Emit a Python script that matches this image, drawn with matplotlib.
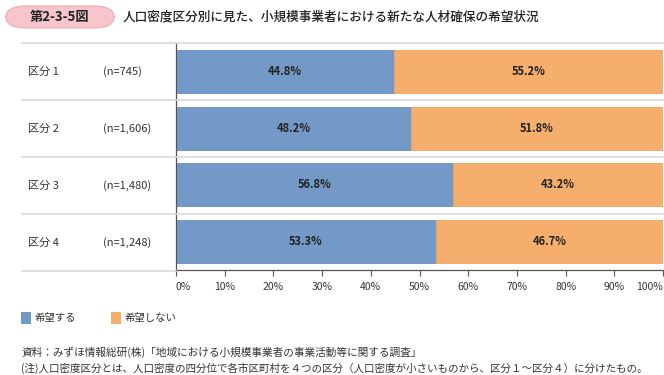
import matplotlib.pyplot as plt
from matplotlib.patches import FancyBboxPatch
from matplotlib.lines import Line2D

plt.rcParams['font.family'] = ['Noto Sans CJK JP', 'DejaVu Sans']

# Data
groups = ['区分 1', '区分 2', '区分 3', '区分 4']
counts = ['(n=745)', '(n=1,606)', '(n=1,480)', '(n=1,248)']
want = [44.8, 48.2, 56.8, 53.3]
not_want = [55.2, 51.8, 43.2, 46.7]
series_names = ['希望する', '希望しない']
colors = ['#7399c6', '#f5ae6b']

W, H = 664, 375
fig = plt.figure(figsize=(W / 100, H / 100), dpi=100)


def fx(px):
    return px / W


def fy(py):
    return 1 - py / H


ax = fig.add_axes([fx(176), fy(270), fx(663) - fx(176), fy(43) - fy(270)])
y = list(range(len(groups)))
ax.barh(y, want, height=0.76, color=colors[0], edgecolor='#6a8fbd', linewidth=0.6)
ax.barh(y, not_want, left=want, height=0.76, color=colors[1], edgecolor='#eea360', linewidth=0.6)
for i in y:
    ax.text(want[i] / 2, i, f'{want[i]}%', ha='center', va='center', fontsize=8,
            fontweight='bold', color='#222222')
    ax.text(want[i] + not_want[i] / 2, i, f'{not_want[i]}%', ha='center', va='center', fontsize=8,
            fontweight='bold', color='#222222')

ax.set_xlim(0, 100)
ax.set_ylim(len(groups) - 0.5, -0.5)
ax.set_yticks([])
ax.set_xticks(range(0, 101, 10))
ax.set_xticklabels([f'{v}%' for v in range(0, 101, 10)], fontsize=7.5, color='#333333')
labels = ax.get_xticklabels()
labels[0].set_ha('left')
labels[-1].set_ha('right')
ax.tick_params(axis='x', length=4, width=0.8, color='#555555', pad=5)
for s in ['top', 'right']:
    ax.spines[s].set_visible(False)
ax.spines['left'].set_color('#555555')
ax.spines['bottom'].set_color('#555555')
ax.spines['left'].set_linewidth(0.9)
ax.spines['bottom'].set_linewidth(0.9)

# Row separators
for py in [43, 100, 157, 214]:
    fig.add_artist(Line2D([fx(22), 1.0], [fy(py), fy(py)], color='#d9d9d9', lw=1.2))
fig.add_artist(Line2D([fx(22), fx(176)], [fy(271), fy(271)], color='#d9d9d9', lw=1.2))

# Row labels
for i, (g, c) in enumerate(zip(groups, counts)):
    py = 71.5 + 57 * i
    fig.text(fx(28), fy(py), g, ha='left', va='center', fontsize=8, color='#333333')
    fig.text(fx(103), fy(py), c, ha='left', va='center', fontsize=8, color='#333333')

# Title badge
badge = FancyBboxPatch((fx(6), fy(28)), fx(108), fy(6) - fy(28),
                       boxstyle='round,pad=0,rounding_size=0.03',
                       transform=fig.transFigure, facecolor='#f6c6cc', edgecolor='#eeaab3', lw=0.8)
fig.add_artist(badge)
fig.text(fx(60), fy(17), '第2-3-5図', ha='center', va='center', fontsize=9.5,
         fontweight='bold', color='#222222')
fig.text(fx(123), fy(17), '人口密度区分別に見た、小規模事業者における新たな人材確保の希望状況',
         ha='left', va='center', fontsize=9.1, fontweight='medium', color='#222222')

# Legend
for px, name, col in [(21, series_names[0], colors[0]), (111, series_names[1], colors[1])]:
    fig.add_artist(plt.Rectangle((fx(px), fy(324)), fx(10), fy(312) - fy(324),
                                 transform=fig.transFigure, facecolor=col, edgecolor='none'))
    fig.text(fx(px + 14), fy(318), name, ha='left', va='center', fontsize=7.5, color='#333333')

# Notes
fig.text(fx(21), fy(352), '資料：みずほ情報総研(株)「地域における小規模事業者の事業活動等に関する調査」',
         ha='left', va='center', fontsize=7.7, color='#333333')
fig.text(fx(21), fy(368), '(注)人口密度区分とは、人口密度の四分位で各市区町村を４つの区分（人口密度が小さいものから、区分１～区分４）に分けたもの。',
         ha='left', va='center', fontsize=7.6, color='#333333')

fig.savefig('out.png', dpi=100)
